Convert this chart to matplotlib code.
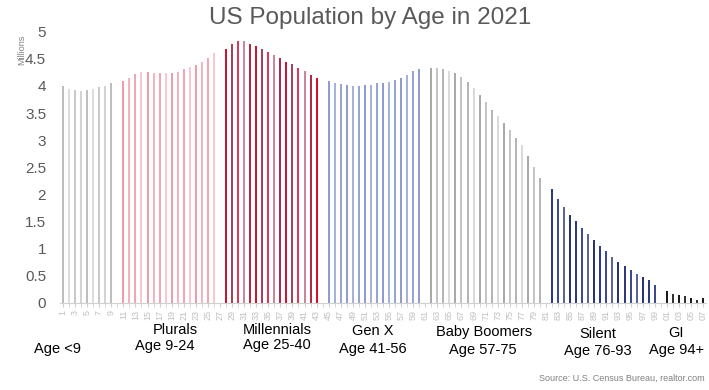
import numpy as np
import matplotlib as mpl
import matplotlib.pyplot as plt

# population in millions, one list per generation (ages in order)
age_under9 = [4.00, 3.94, 3.92, 3.91, 3.92, 3.94, 3.98, 4.00, 4.05]
plurals = [4.10, 4.15, 4.22, 4.26, 4.26, 4.24, 4.23, 4.23, 4.23, 4.26, 4.31, 4.35, 4.38, 4.44, 4.52, 4.61]
millennials = [4.69, 4.77, 4.82, 4.82, 4.77, 4.73, 4.69, 4.62, 4.57, 4.52, 4.45, 4.40, 4.33, 4.27, 4.20, 4.15]
gen_x = [4.10, 4.05, 4.03, 4.01, 4.00, 4.00, 4.02, 4.02, 4.05, 4.06, 4.07, 4.11, 4.15, 4.21, 4.28, 4.31]
boomers = [4.34, 4.34, 4.31, 4.28, 4.23, 4.17, 4.07, 3.96, 3.83, 3.70, 3.56, 3.44, 3.32, 3.18, 3.05, 2.91,
           2.71, 2.51, 2.31]
silent = [2.10, 1.92, 1.77, 1.63, 1.51, 1.39, 1.28, 1.16, 1.05, 0.96, 0.85, 0.76, 0.68, 0.60, 0.53, 0.48,
          0.42, 0.34]
gi = [0.23, 0.17, 0.15, 0.12, 0.09, 0.05, 0.09]

groups = [age_under9, plurals, millennials, gen_x, boomers, silent, gi]
group_names = ['', 'Plurals', 'Millennials', 'Gen X', 'Baby Boomers', 'Silent', 'GI']
group_ages = ['Age <9', 'Age 9-24', 'Age 25-40', 'Age 41-56', 'Age 57-75', 'Age 76-93', 'Age 94+']

palettes = [
    ['#bdbdbd', '#dcdcdc', '#c9c9c9', '#d3d3d3'],
    ['#f29aab', '#f5b3c0', '#f2a5b4', '#f8c8d2'],
    ['#d0122f', '#a8405a', '#d83a5a', '#c9879c', '#b02a48'],
    ['#8f9dcd', '#a6b2da', '#97a5d2'],
    ['#a9a9a9', '#c4c4c4', '#b5b5b5', '#dadada'],
    ['#2e3b7a', '#3d4b8c', '#5b6592', '#2a3570'],
    ['#1a1a1a', '#333333'],
]

font = {'family': 'Liberation Sans', 'size': 10}
mpl.rc('font', **font)

fig = plt.figure(figsize=(7.09, 3.90), dpi=100)
ax = fig.add_axes([0.0846, 0.2231, 0.9112, 0.6956])

x = []
heights = []
colors = []
pos = 1
for g, vals in enumerate(groups):
    for i, v in enumerate(vals):
        x.append(pos)
        heights.append(v)
        colors.append(palettes[g][i % len(palettes[g])])
        pos += 1
    pos += 1  # empty slot between generations
n_slots = pos - 2

ax.bar(x, heights, width=0.33, color=colors)

ax.set_xlim(0.5, n_slots + 0.5)
ax.set_ylim(0, 5)
ax.set_yticks(np.arange(0, 5.01, 0.5))
ax.set_yticklabels(['0', '0.5', '1', '1.5', '2', '2.5', '3', '3.5', '4', '4.5', '5'])
ax.tick_params(axis='y', length=0, pad=10, labelsize=11, labelcolor='#595959')

odd = list(range(1, n_slots + 1, 2))
ax.set_xticks(odd)
ax.set_xticklabels([str(i) if i < 100 else '{:02d}'.format(i % 100) for i in odd],
                   rotation=90, fontsize=6.5, color='#c0c0c0')
ax.set_xticks(range(1, n_slots + 1), minor=True)
ax.tick_params(axis='x', which='both', length=3, color='#d0d0d0', pad=2)

for s in ['top', 'right', 'left']:
    ax.spines[s].set_visible(False)
ax.spines['bottom'].set_color('#d0d0d0')

fig.text(0.522, 0.955, 'US Population by Age in 2021', ha='center', va='center',
         fontsize=17.5, color='#595959')
fig.text(0.031, 0.872, 'Millions', rotation=90, ha='center', va='center',
         fontsize=6.5, color='#808080')

name_x = [58, 175, 277, 373, 484, 598, 676]
name_y = [330, 330, 330, 331, 332, 334, 333]
age_x = [58, 165, 277, 373, 483, 598, 677]
age_y = [349, 346, 345, 349, 350, 351, 350]
for i in range(len(groups)):
    fig.text(name_x[i] / 709, 1 - name_y[i] / 390, group_names[i], ha='center', va='center',
             fontsize=10.5, color='black')
    fig.text(age_x[i] / 709, 1 - age_y[i] / 390, group_ages[i], ha='center', va='center',
             fontsize=10.5, color='black')

fig.text(705 / 709, 1 - 378 / 390, 'Source: U.S. Census Bureau, realtor.com', ha='right',
         va='center', fontsize=6.5, color='#808080')

plt.savefig('out.png', dpi=100)
plt.close()
